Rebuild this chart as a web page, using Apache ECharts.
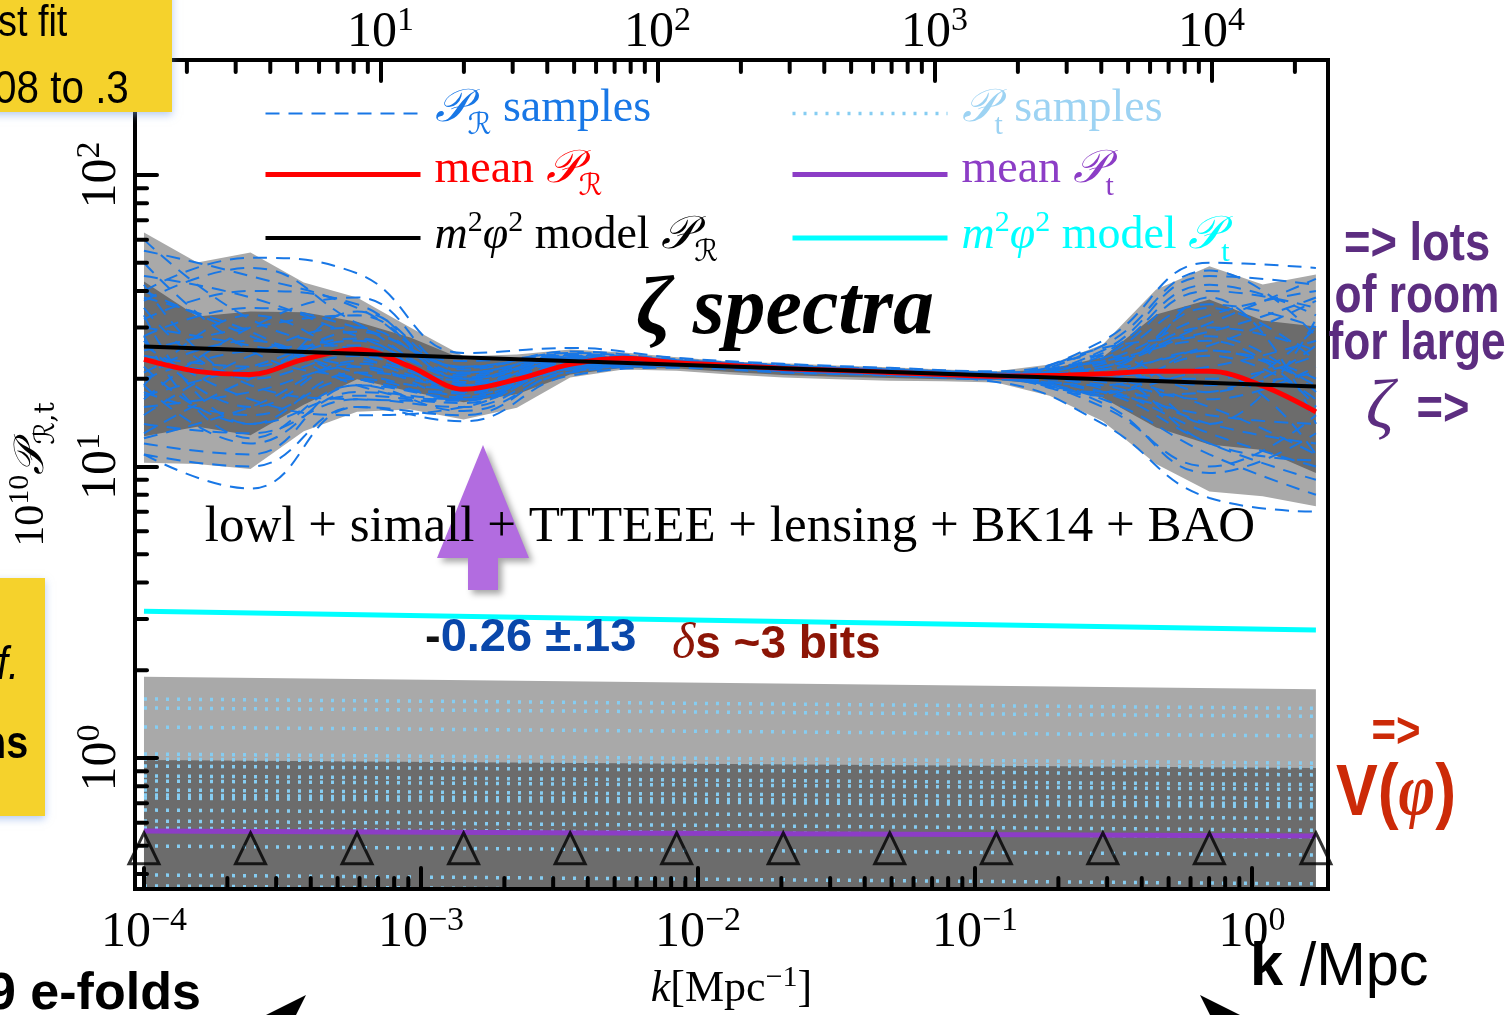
<!DOCTYPE html>
<html>
<head>
<meta charset="utf-8">
<script src="https://cdn.jsdelivr.net/npm/echarts@6/dist/echarts.min.js"></script>
<style>
  html, body { margin: 0; padding: 0; background: #ffffff; }
  #chart { width: 1505px; height: 1015px; }
</style>
</head>
<body>
<div id="chart"></div>
<script>
// ---- wavenumber grids (Mpc^-1) ----
// reconstruction knots, evenly spaced in log k
const kKnot = [1.000e-4, 2.424e-4, 5.877e-4, 1.425e-3, 3.455e-3, 8.376e-3, 2.031e-2, 4.923e-2, 0.1194, 0.2894, 0.7017, 1.701];
// finer grid for the credible bands and the mean
const kGrid = [1.000e-4, 1.557e-4, 2.424e-4, 3.774e-4, 5.877e-4, 9.151e-4, 1.425e-3, 2.219e-3, 3.455e-3, 5.379e-3,
               8.376e-3, 1.304e-2, 2.031e-2, 3.162e-2, 4.923e-2, 7.666e-2, 0.1194, 0.1859, 0.2894, 0.4507, 0.7017, 1.093, 1.701];
const kEnds = [1.000e-4, 1.701];

// ---- scalar spectrum 10^10 P_R ----
const prOuterHi = [63.5, 50.1, 54.2, 42.8, 38.0, 30.0, 23.9, 24.2, 25.2, 24.6, 23.7, 22.9, 22.6, 22.2, 21.9, 21.5, 21.2, 22.4, 26.2, 40.5, 48.6, 42.1, 45.6];
const prOuterLo = [10.3, 10.2, 9.8, 13.2, 15.4, 15.7, 14.5, 15.9, 20.2, 21.5, 21.3, 20.7, 20.2, 19.9, 19.7, 19.6, 19.4, 17.5, 14.3, 10.2, 8.2, 7.9, 7.3];
const prInnerHi = [43.1, 32.7, 34.0, 33.8, 31.4, 27.7, 23.3, 23.3, 23.9, 23.7, 23.2, 22.6, 22.2, 21.9, 21.6, 21.3, 21.0, 21.6, 23.7, 33.2, 37.4, 31.7, 30.2];
const prInnerLo = [12.7, 13.7, 12.8, 16.3, 19.9, 18.1, 16.6, 17.7, 20.7, 21.8, 21.7, 21.1, 20.6, 20.3, 20.1, 19.9, 19.8, 19.1, 17.2, 13.6, 11.9, 11.4, 9.5];
const prMean    = [23.3, 21.2, 20.7, 23.3, 25.2, 22.0, 18.4, 19.9, 22.4, 23.5, 22.7, 22.2, 21.7, 21.4, 21.0, 20.7, 20.4, 20.5, 20.8, 21.2, 21.2, 18.9, 15.4];
const prModel   = [25.8, 18.8];

// posterior draws of P_R, one value per knot
const prSamples = [
  [30, 26, 22, 19, 23, 22.8, 21.9, 21.2, 20.6, 22, 30, 25],
  [18, 15, 20, 17, 22, 22.5, 21.5, 20.8, 20.2, 19, 14, 12],
  [45, 38, 28, 21, 24, 23, 22, 21.3, 20.8, 24, 40, 35],
  [14, 13, 17, 16, 21.5, 22.3, 21.3, 20.7, 20.0, 18, 12, 9],
  [25, 30, 33, 20, 23.5, 22.9, 21.8, 21.1, 20.5, 21, 25, 20],
  [35, 20, 24, 18, 22.5, 22.6, 21.6, 21.0, 20.3, 17.5, 18, 30],
  [12, 11, 19, 15.5, 21, 22.1, 21.2, 20.6, 19.9, 23, 33, 40],
  [55, 45, 35, 22, 24.5, 23.2, 22.2, 21.5, 20.9, 20, 16, 11],
  [20, 25, 26, 19, 22.8, 22.7, 21.7, 21.0, 20.4, 16, 10, 15],
  [28, 35, 30, 23, 24, 23.1, 22.1, 21.4, 20.7, 25, 45, 42],
  [16, 18, 22, 17.5, 22, 22.4, 21.4, 20.9, 20.1, 22, 28, 18],
  [40, 28, 21, 18.5, 23, 22.8, 21.8, 21.2, 20.6, 18.5, 13, 10],
  [22, 14, 17.5, 16.5, 21.8, 22.3, 21.5, 20.8, 20.3, 20.5, 22, 27],
  [32, 40, 36, 21, 23.8, 23.0, 22.0, 21.3, 20.8, 23.5, 36, 30],
  [11, 10, 16, 15, 21.2, 22.2, 21.3, 20.7, 20.0, 17, 11, 8],
  [60, 32, 25, 20, 23.2, 22.9, 21.9, 21.1, 20.5, 21.5, 26, 37],
  [24, 22, 29, 22, 24.2, 23.1, 22.1, 21.4, 20.7, 19.5, 17, 22],
  [19, 12, 18, 17, 22.2, 22.5, 21.6, 20.9, 20.2, 24.5, 42, 33],
  [37, 48, 31, 20.5, 23.6, 22.9, 21.8, 21.2, 20.6, 18, 15, 14],
  [27, 16, 23, 19.5, 22.6, 22.6, 21.7, 21.0, 20.4, 22.5, 31, 44],
  [13, 20, 27, 18, 22.4, 22.5, 21.6, 21.0, 20.3, 16.5, 9.5, 13],
  [50, 25, 20, 17.8, 22.3, 22.4, 21.5, 20.9, 20.2, 20, 20, 24],
  [17, 30, 38, 21.5, 24.8, 23.3, 22.3, 21.6, 21.0, 26, 47, 28],
  [26, 17, 15, 16, 21.6, 22.2, 21.4, 20.8, 20.1, 19, 24, 17],
  [11, 8.4, 16, 14.3, 20.5, 21.8, 21.0, 20.5, 19.5, 14, 7.8, 7],
  [40, 52, 46, 24.5, 25.5, 23.6, 22.5, 21.8, 21.2, 27, 50, 48],
  [21, 27, 20, 18, 22.9, 22.8, 21.9, 21.2, 20.5, 20.8, 19, 21],
  [33, 14, 21, 19.8, 23.4, 22.7, 21.7, 21.0, 20.4, 23, 27, 16],
  [15, 24, 30, 20.8, 23.9, 23.0, 22.0, 21.3, 20.7, 21.5, 35, 23],
  [42, 19, 17, 16.8, 21.9, 22.3, 21.5, 20.9, 20.3, 18, 21, 11],
  [19, 33, 24, 19.2, 23.1, 22.8, 21.8, 21.1, 20.6, 24, 18, 26],
  [28, 12.5, 19, 17.3, 22.1, 22.4, 21.6, 20.9, 20.2, 17.8, 25, 19],
  [23, 21, 34, 21.8, 24.3, 23.1, 22.0, 21.3, 20.6, 22.8, 14, 32],
  [12.5, 16, 22.5, 18.8, 22.7, 22.6, 21.7, 21.0, 20.4, 19.8, 38, 14],
  [38, 29, 19, 17, 21.7, 22.4, 21.5, 20.8, 20.2, 25.5, 29, 38],
  [17.5, 22, 27.5, 20.2, 23.3, 22.9, 21.8, 21.2, 20.5, 20.2, 12, 10.5]
];

// ---- tensor spectrum 10^10 P_t ----
const ptOuterHi = [1.90, 1.72];
const ptOuterLo = [0.12, 0.11];
const ptInnerHi = [0.985, 0.924];
const ptInnerLo = [0.20, 0.18];
const ptMean    = [0.562, 0.540];
const ptModel   = [3.19, 2.75];
const ptSamples = [
  [1.594, 1.48], [1.484, 1.39], [1.277, 1.19], [1.032, 0.96], [0.992, 0.925], [0.939, 0.875],
  [0.868, 0.81], [0.834, 0.78], [0.777, 0.725], [0.747, 0.695], [0.729, 0.68], [0.663, 0.62],
  [0.608, 0.565], [0.575, 0.535], [0.499, 0.465], [0.397, 0.37], [0.364, 0.34]
];
const knotMarkerLevel = 0.49;

// ---- axes ----
const K_MIN = 9.28e-5, K_MAX = 1.881;
const ELL_PER_K = 14000;          // multipole scale on the top axis
const P_MIN = 0.3553, P_MAX = 248;

function minorValues(lo, hi, decades) {
  const out = [];
  decades.forEach(d => { for (let m = 2; m <= 9; m++) { const v = m * Math.pow(10, d); if (v > lo && v < hi) out.push(v); } });
  return out;
}
const kMinor = minorValues(K_MIN, K_MAX, [-5, -4, -3, -2, -1, 0]);
const ellMinor = minorValues(K_MIN * ELL_PER_K, K_MAX * ELL_PER_K, [0, 1, 2, 3, 4]);
const pMinor = minorValues(P_MIN, P_MAX, [-1, 0, 1, 2]);

const SERIF = '"Liberation Serif", "DejaVu Serif", serif';
const SANS = '"Liberation Sans", Arial, sans-serif';
const SCRIPT = '"DejaVu Serif", "DejaVu Sans", serif';

const C = {
  sample: '#1877e6', mean: '#ff0000', model: '#000000',
  tSample: '#86cdf2', tMean: '#8c3dc6', tModel: '#00ffff',
  light: '#a9a9a9', dark: '#6c6c6c'
};

function pow10Label(v) {
  const e = Math.log10(v), r = Math.round(e);
  if (Math.abs(e - r) > 1e-6) return '';
  const s = r < 0 ? '\u2212' + (-r) : String(r);
  return '{b|10}{e|' + s + '}';
}
const tickRich = {
  b: { fontSize: 50, fontFamily: SERIF, color: '#000', verticalAlign: 'bottom', lineHeight: 50 },
  e: { fontSize: 34, fontFamily: SERIF, color: '#000', verticalAlign: 'bottom', lineHeight: 34, padding: [0, 0, 20, 0] }
};

// shaded credible band between lo and hi, clipped to the plotting area
function band(xs, lo, hi, fill, z) {
  return {
    type: 'custom', silent: true, z: z, clip: true,
    data: xs.map((x, i) => [x, lo[i], hi[i]]),
    encode: { x: 0, y: [1, 2] },
    renderItem(params, api) {
      if (params.dataIndex !== 0) return null;
      const cs = params.coordSys;
      const yb = cs.y + cs.height;
      const top = xs.map((x, i) => api.coord([x, hi[i]]));
      const bot = xs.map((x, i) => api.coord([x, lo[i]])).reverse();
      const pts = top.concat(bot).map(p => [p[0], Math.min(Math.max(p[1], cs.y), yb)]);
      return { type: 'polygon', shape: { points: pts }, style: { fill: fill } };
    }
  };
}

// minor log ticks drawn inward from a frame edge
function minorTicks(values, side) {
  return {
    type: 'custom', silent: true, z: 12,
    xAxisIndex: side === 'top' ? 1 : 0, yAxisIndex: 0,
    data: values.map(v => side === 'left' ? [1e-2, v] : [v, 10]),
    renderItem(params, api) {
      const cs = params.coordSys;
      const p = api.coord([api.value(0), api.value(1)]);
      let shape;
      if (side === 'left') shape = { x1: cs.x, y1: p[1], x2: cs.x + 12, y2: p[1] };
      else if (side === 'bottom') shape = { x1: p[0], y1: cs.y + cs.height, x2: p[0], y2: cs.y + cs.height - 11 };
      else shape = { x1: p[0], y1: cs.y, x2: p[0], y2: cs.y + 12 };
      return { type: 'line', shape: shape, style: { stroke: '#000', lineWidth: 4, lineCap: 'round' } };
    }
  };
}

function line(name, xs, ys, color, width, dash, smooth, z) {
  return {
    type: 'line', name: name, silent: true, z: z, symbol: 'none', smooth: smooth,
    data: xs.map((x, i) => [x, ys[i]]),
    itemStyle: { color: color },
    lineStyle: { color: color, width: width, type: dash },
    emphasis: { disabled: true }
  };
}

const series = [];
series.push(band(kGrid, prOuterLo, prOuterHi, C.light, 2));
series.push(band(kGrid, prInnerLo, prInnerHi, C.dark, 2));
series.push(band(kEnds, ptOuterLo, ptOuterHi, C.light, 2));
series.push(band(kEnds, ptInnerLo, ptInnerHi, C.dark, 2));
prSamples.forEach(s => series.push(line('P_R samples', kKnot, s, C.sample, 2, [14, 9], 0.45, 3)));
ptSamples.forEach(s => series.push(line('P_t samples', kEnds, s, C.tSample, 3.5, [3, 8], false, 3)));
series.push(line('mean P_R', kGrid, prMean, C.mean, 5, 'solid', 0.35, 4));
series.push(line('model P_R', kEnds, prModel, C.model, 4, 'solid', false, 5));
series.push(line('mean P_t', kEnds, ptMean, C.tMean, 5, 'solid', false, 4));
series.push(line('model P_t', kEnds, ptModel, C.tModel, 5, 'solid', false, 4));
series.push({
  type: 'scatter', silent: true, z: 6, symbol: 'triangle', symbolSize: [30, 31],
  data: kKnot.map(k => [k, knotMarkerLevel]),
  itemStyle: { color: 'rgba(0,0,0,0)', borderColor: '#000', borderWidth: 3 }
});
series.push(minorTicks(kMinor, 'bottom'));
series.push(minorTicks(ellMinor, 'top'));
series.push(minorTicks(pMinor, 'left'));

// legend text in math notation
const legendRich = {
  g: { width: 9 },
  t: { fontSize: 46, fontFamily: SERIF, verticalAlign: 'bottom', padding: [0, 0, 9, 0] },
  i: { fontSize: 46, fontFamily: SERIF, fontStyle: 'italic', verticalAlign: 'bottom', padding: [0, 0, 9, 0] },
  P: { fontSize: 46, fontFamily: SCRIPT, fontStyle: 'italic', verticalAlign: 'bottom', padding: [0, 0, 9, 0] },
  s: { fontSize: 30, fontFamily: SCRIPT, verticalAlign: 'bottom', padding: [0, 0, 0, 0] },
  st: { fontSize: 30, fontFamily: SERIF, verticalAlign: 'bottom', padding: [0, 0, 0, 0] },
  u: { fontSize: 30, fontFamily: SERIF, verticalAlign: 'bottom', padding: [0, 0, 30, 0] }
};
const legendText = {
  'P_R samples': '{g| }{P|\uD835\uDCAB}{s|\u211B}{t| samples}',
  'mean P_R': '{g| }{t|mean }{P|\uD835\uDCAB}{s|\u211B}',
  'model P_R': '{g| }{i|m}{u|2}{i|\u03C6}{u|2}{t| model }{P|\uD835\uDCAB}{s|\u211B}',
  'P_t samples': '{g| }{P|\uD835\uDCAB}{st|t}{t| samples}',
  'mean P_t': '{g| }{t|mean }{P|\uD835\uDCAB}{st|t}',
  'model P_t': '{g| }{i|m}{u|2}{i|\u03C6}{u|2}{t| model }{P|\uD835\uDCAB}{st|t}'
};
function legendBlock(left, items) {
  return {
    left: left, top: 86, orient: 'vertical', itemWidth: 155, itemHeight: 14, itemGap: 6,
    selectedMode: false, padding: 0,
    lineStyle: { width: 'inherit' }, itemStyle: { opacity: 0, borderWidth: 0 },
    data: items.map(it => ({ name: it[0], textStyle: { color: it[1] } })),
    formatter: name => legendText[name],
    textStyle: { fontFamily: SERIF, fontSize: 46, rich: legendRich }
  };
}

function gtext(x, y, text, font, fill, align, sx, extra) {
  return Object.assign({
    type: 'text', x: x, y: y, scaleX: sx || 1, z: 30, silent: true,
    style: { text: text, font: font, fill: fill, align: align || 'left', verticalAlign: 'middle',
             textAlign: align || 'left', textVerticalAlign: 'middle' }
  }, extra || {});
}
function gpoly(points, fill, extra) {
  return Object.assign({ type: 'polygon', z: 30, silent: true, shape: { points: points }, style: { fill: fill } }, extra || {});
}

const graphic = [
  // yellow call-out boxes
  { type: 'rect', z: 25, silent: true, shape: { x: -20, y: -20, width: 192, height: 132 },
    style: { fill: '#f5d22c', shadowBlur: 8, shadowColor: 'rgba(120,160,230,0.55)', shadowOffsetY: 3 } },
  { type: 'rect', z: 25, silent: true, shape: { x: -20, y: 578, width: 65, height: 238 },
    style: { fill: '#f5d22c', shadowBlur: 8, shadowColor: 'rgba(120,160,230,0.55)', shadowOffsetY: 3 } },
  gtext(-2, 24, 'st fit', '44px ' + SANS, '#000', 'left', 0.86),
  gtext(-6, 90, '08 to .3', '47px ' + SANS, '#000', 'left', 0.86),
  gtext(-3, 666, 'f.', 'italic 46px ' + SANS, '#000', 'left', 0.86),
  gtext(-18, 745, 'ns', 'bold 46px ' + SANS, '#000', 'left', 0.86),

  // upward arrow
  gpoly([[483, 445], [529, 558], [498, 558], [498, 590], [468, 590], [468, 558], [437, 558]], '#b26ce0',
        { style: { fill: '#b26ce0', shadowBlur: 6, shadowOffsetX: 4, shadowOffsetY: 4, shadowColor: 'rgba(0,0,0,0.35)' } }),

  // data combination
  gtext(730, 528, 'lowl + simall + TTTEEE + lensing + BK14 + BAO', '51px ' + SERIF, '#000', 'center', 1),

  // panel title
  gtext(785, 312, '\u03B6 spectra', 'italic bold 82px ' + SERIF, '#000', 'center', 1),

  // tilt and information gain
  { type: 'text', x: 425, y: 638, z: 30, silent: true,
    style: { text: '{m|-}{v|0.26 \u00B1.13}', align: 'left', verticalAlign: 'middle', textAlign: 'left', textVerticalAlign: 'middle',
             rich: { m: { fontSize: 47, fontWeight: 'bold', fontFamily: SANS, fill: '#111', color: '#111' },
                     v: { fontSize: 47, fontWeight: 'bold', fontFamily: SANS, fill: '#0a47aa', color: '#0a47aa' } } } },
  { type: 'text', x: 672, y: 645, z: 30, silent: true,
    style: { text: '{d|\u03B4}{v|s ~3 bits}', align: 'left', verticalAlign: 'middle', textAlign: 'left', textVerticalAlign: 'middle',
             rich: { d: { fontSize: 50, fontStyle: 'italic', fontFamily: SERIF, fill: '#8c1506', color: '#8c1506' },
                     v: { fontSize: 46, fontWeight: 'bold', fontFamily: SANS, fill: '#8c1506', color: '#8c1506' } } } },

  // right-hand notes
  gtext(1417, 245, '=> lots', 'bold 54px ' + SANS, '#5c2d80', 'center', 0.84),
  gtext(1417, 297, 'of room', 'bold 54px ' + SANS, '#5c2d80', 'center', 0.82),
  gtext(1417, 344, 'for large', 'bold 54px ' + SANS, '#5c2d80', 'center', 0.82),
  gtext(1380, 410, '\u03B6', 'italic 70px ' + SERIF, '#5c2d80', 'center', 1),
  gtext(1443, 410, '=>', 'bold 54px ' + SANS, '#5c2d80', 'center', 0.84),
  gtext(1396, 733, '=>', 'bold 50px ' + SANS, '#cc2a08', 'center', 0.84),
  { type: 'text', x: 1396, y: 795, scaleX: 0.87, z: 30, silent: true,
    style: { text: '{a|V(}{b|\u03C6}{a|)}', align: 'center', verticalAlign: 'middle', textAlign: 'center', textVerticalAlign: 'middle',
             rich: { a: { fontSize: 72, fontWeight: 'bold', fontFamily: SANS, fill: '#cc2a08', color: '#cc2a08' },
                     b: { fontSize: 72, fontWeight: 'bold', fontStyle: 'italic', fontFamily: SERIF, fill: '#cc2a08', color: '#cc2a08' } } } },

  // wavenumber range notes along the bottom
  { type: 'text', x: 1250, y: 968, scaleX: 0.96, z: 30, silent: true,
    style: { text: '{k|k}{r| /Mpc}', align: 'left', verticalAlign: 'middle', textAlign: 'left', textVerticalAlign: 'middle',
             rich: { k: { fontSize: 62, fontWeight: 'bold', fontFamily: SANS, fill: '#000', color: '#000' },
                     r: { fontSize: 62, fontFamily: SANS, fill: '#000', color: '#000' } } } },
  gtext(-13, 995, '9 e-folds', 'bold 52px ' + SANS, '#000', 'left', 1),
  gpoly([[306, 995], [266, 1015], [296, 1015]], '#000'),
  gpoly([[1200, 995], [1240, 1015], [1210, 1015]], '#000')
];

const axisCommon = {
  type: 'log', logBase: 10, z: 10,
  splitLine: { show: false },
  axisLine: { show: true, lineStyle: { color: '#000', width: 4, cap: 'square' } },
  axisTick: { show: true, inside: true, length: 21, lineStyle: { color: '#000', width: 4, cap: 'round' } },
  axisLabel: { show: true, formatter: pow10Label, rich: tickRich, showMinLabel: false, showMaxLabel: false }
};

const option = {
  animation: false,
  backgroundColor: '#ffffff',
  grid: { left: 135, right: 177, top: 60, bottom: 126, containLabel: false, outerBoundsMode: 'none' },
  legend: [
    legendBlock(263, [['P_R samples', C.sample], ['mean P_R', C.mean], ['model P_R', '#000']]),
    legendBlock(790, [['P_t samples', '#9dd3f3'], ['mean P_t', C.tMean], ['model P_t', C.tModel]])
  ],
  xAxis: [
    Object.assign({}, axisCommon, {
      position: 'bottom', min: K_MIN, max: K_MAX,
      axisLabel: Object.assign({}, axisCommon.axisLabel, { margin: 19 }),
      name: '{i|k}{r|[Mpc}{e|\u22121}{r|]}', nameLocation: 'middle', nameGap: 78,
      nameTextStyle: { rich: {
        i: { fontSize: 44, fontFamily: SERIF, fontStyle: 'italic', verticalAlign: 'bottom', lineHeight: 44 },
        r: { fontSize: 44, fontFamily: SERIF, verticalAlign: 'bottom', lineHeight: 44 },
        e: { fontSize: 30, fontFamily: SERIF, verticalAlign: 'bottom', lineHeight: 30, padding: [0, 0, 18, 0] } } }
    }),
    Object.assign({}, axisCommon, {
      position: 'top', min: K_MIN * ELL_PER_K, max: K_MAX * ELL_PER_K,
      axisLabel: Object.assign({}, axisCommon.axisLabel, { margin: 2 })
    })
  ],
  yAxis: [
    Object.assign({}, axisCommon, {
      position: 'left', min: P_MIN, max: P_MAX,
      axisTick: Object.assign({}, axisCommon.axisTick, { length: 22 }),
      axisLabel: Object.assign({}, axisCommon.axisLabel, { rotate: 90, margin: 8 }),
      name: '{r|10}{e|10}{P|\uD835\uDCAB}{s|\u211B,t}', nameLocation: 'middle', nameGap: 74, nameRotate: 90,
      nameTextStyle: { rich: {
        r: { fontSize: 42, fontFamily: SERIF, verticalAlign: 'bottom', lineHeight: 42, padding: [0, 0, 8, 0] },
        e: { fontSize: 30, fontFamily: SERIF, verticalAlign: 'bottom', lineHeight: 30, padding: [0, 0, 26, 0] },
        P: { fontSize: 42, fontFamily: SCRIPT, fontStyle: 'italic', verticalAlign: 'bottom', lineHeight: 42, padding: [0, 0, 8, 0] },
        s: { fontSize: 28, fontFamily: SCRIPT, verticalAlign: 'bottom', lineHeight: 28 } } }
    }),
    Object.assign({}, axisCommon, {
      position: 'right', min: P_MIN, max: P_MAX,
      axisTick: { show: false }, axisLabel: { show: false }
    })
  ],
  graphic: graphic,
  series: series
};

const chart = echarts.init(document.getElementById('chart'), null, { renderer: 'canvas' });
chart.setOption(option);
</script>
</body>
</html>
